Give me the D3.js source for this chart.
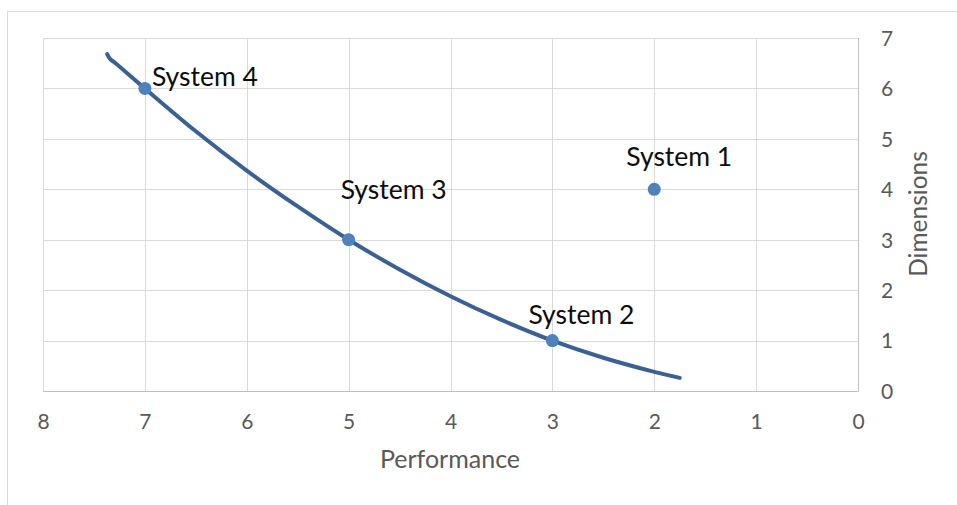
<!DOCTYPE html>
<html><head><meta charset="utf-8">
<script src="https://cdn.jsdelivr.net/npm/d3@7"></script>
<style>html,body{margin:0;padding:0;background:#fff;overflow:hidden}</style>
</head><body>
<svg id="c" width="957" height="505"></svg>
<script>
// Data
const systems = ["System 1", "System 2", "System 3", "System 4"];
const performance = [2, 3, 5, 7];
const dimensions = [4, 1, 3, 6];
// trend curve
const curveX = [7.37, 7.34, 7.3, 7.0, 6.5, 6.0, 5.5, 5.0, 4.5, 4.0, 3.5, 3.0, 2.5, 2.0, 1.75];
const curveY = [6.68, 6.58, 6.52, 6.0, 5.15, 4.37, 3.66, 3.0, 2.41, 1.88, 1.41, 1.0, 0.66, 0.38, 0.26];
const xTicks = [8, 7, 6, 5, 4, 3, 2, 1, 0];
const yTicks = [0, 1, 2, 3, 4, 5, 6, 7];
const xTitle = "Performance";
const yTitle = "Dimensions";

// label placement (style)
const labelPos = [
  {dx: 25, dy: -23, anchor: "middle"},
  {dx: 29, dy: -17, anchor: "middle"},
  {dx: 45, dy: -41, anchor: "middle"},
  {dx: 7, dy: -2, anchor: "start"}
];

const svg = d3.select("#c");
const font = "Lato, 'Open Sans', sans-serif";
const L = 43, R = 858, T = 38, B = 391;
const x = d3.scaleLinear().domain([8, 0]).range([L, R]);
const y = d3.scaleLinear().domain([0, 7]).range([B, T]);

// outer chart border
svg.append("rect").attr("x", 7.5).attr("y", 11.5).attr("width", 1000).attr("height", 600)
  .attr("fill", "none").attr("stroke", "#d9d9d9").attr("stroke-width", 1);

// grid
const g = svg.append("g");
g.selectAll(".vg").data(xTicks.filter(d => d !== 0)).enter().append("line")
  .attr("x1", d => Math.round(x(d)) + 0.5).attr("x2", d => Math.round(x(d)) + 0.5)
  .attr("y1", T).attr("y2", B).attr("stroke", "#d9d9d9");
g.selectAll(".hg").data(yTicks.filter(d => d !== 0)).enter().append("line")
  .attr("y1", d => Math.round(y(d)) + 0.5).attr("y2", d => Math.round(y(d)) + 0.5)
  .attr("x1", L).attr("x2", R).attr("stroke", "#d9d9d9");

// axes lines
svg.append("line").attr("x1", L).attr("x2", R + 0.5).attr("y1", B + 0.5).attr("y2", B + 0.5).attr("stroke", "#bfbfbf");
svg.append("line").attr("x1", R + 0.5).attr("x2", R + 0.5).attr("y1", T).attr("y2", B + 0.5).attr("stroke", "#bfbfbf");

// x axis via d3
const xAxis = d3.axisBottom(x).tickValues(xTicks).tickSize(0).tickPadding(0).tickFormat(d3.format("d"));
const xa = svg.append("g").attr("transform", `translate(0,${B})`).call(xAxis);
xa.select(".domain").remove();
xa.selectAll("text").attr("dy", null).attr("y", 38).attr("fill", "#595959")
  .style("font-family", font).style("font-size", "21px");

const yAxis = d3.axisRight(y).tickValues(yTicks).tickSize(0).tickPadding(0).tickFormat(d3.format("d"));
const ya = svg.append("g").attr("transform", `translate(${R},0)`).call(yAxis);
ya.select(".domain").remove();
ya.selectAll("text").attr("x", 23).attr("dy", "0.35em").attr("fill", "#595959")
  .style("font-family", font).style("font-size", "21px");

// titles
svg.append("text").attr("x", 450).attr("y", 468).attr("text-anchor", "middle")
  .attr("fill", "#595959").style("font-family", font).style("font-size", "25px").text(xTitle);
svg.append("text").attr("transform", "translate(927,214) rotate(-90)").attr("text-anchor", "middle")
  .attr("fill", "#595959").style("font-family", font).style("font-size", "24.5px").text(yTitle);

// trend curve
const pts = curveX.map((v, i) => [v, curveY[i]]);
svg.append("path").datum(pts)
  .attr("d", d3.line().x(d => x(d[0])).y(d => y(d[1])).curve(d3.curveCatmullRom.alpha(0.5)))
  .attr("fill", "none").attr("stroke", "#3b6092").attr("stroke-width", 4).attr("stroke-linecap", "round");

// points
svg.selectAll(".pt").data(systems).enter().append("circle")
  .attr("cx", (d, i) => x(performance[i])).attr("cy", (d, i) => y(dimensions[i]))
  .attr("r", 6.5).attr("fill", "#4f81bd");

// labels
svg.selectAll(".lb").data(systems).enter().append("text")
  .attr("x", (d, i) => x(performance[i]) + labelPos[i].dx)
  .attr("y", (d, i) => y(dimensions[i]) + labelPos[i].dy)
  .attr("text-anchor", (d, i) => labelPos[i].anchor)
  .attr("fill", "#0d0d0d").style("font-family", font).style("font-size", "26.5px")
  .text(d => d);
</script>
</body></html>
